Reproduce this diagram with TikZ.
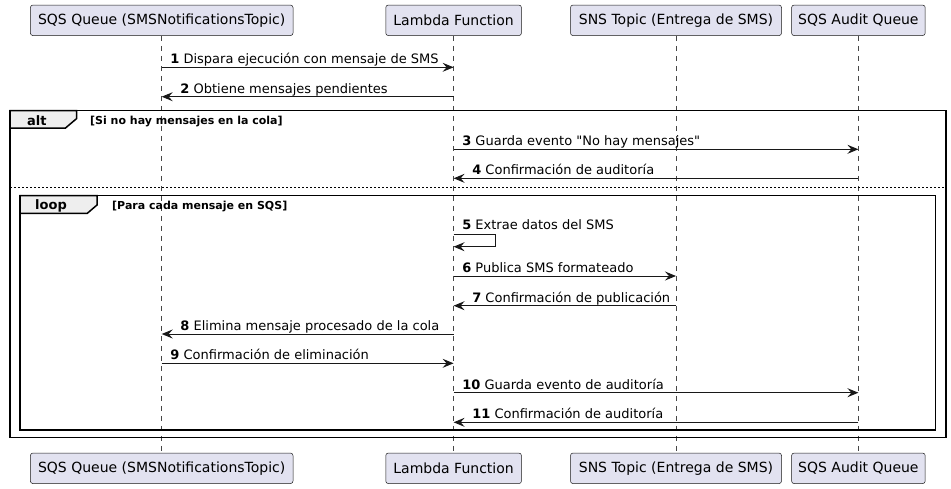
\documentclass[tikz,border=0pt]{standalone}
\usepackage{fontspec}
\setmainfont{DejaVu Sans}[Ligatures=TeXOff]
\usepackage{tikz}
\usetikzlibrary{arrows.meta}
\usetikzlibrary{positioning}
\definecolor{actor_fill}{RGB}{226,226,240}
\definecolor{actor_line}{RGB}{24,24,24}
\definecolor{tab_fill}{RGB}{238,238,238}
\tikzstyle{actor_box}=[draw=actor_line, line width=0.5pt, fill=actor_fill, rounded corners=2.5pt, minimum height=30.5pt, inner xsep=5pt, inner ysep=0pt, font=\fontsize{14}{16}\selectfont]
\tikzstyle{life_line}=[draw=actor_line!80, line width=0.5pt, dash pattern=on 5pt off 5pt]
\tikzstyle{msg}=[draw=actor_line, line width=1pt, -{Stealth[length=11pt,width=9pt,inset=4pt]}]
\tikzstyle{msg_text}=[anchor=base west, inner sep=0pt, font=\fontsize{13}{15}\selectfont]
\tikzstyle{frame_box}=[draw=black, line width=1.5pt]
\tikzstyle{frame_tab}=[draw=black, line width=1.5pt, fill=tab_fill]
\tikzstyle{frame_text}=[anchor=base west, inner sep=0pt, font=\bfseries\fontsize{13}{15}\selectfont]
\tikzstyle{guard_text}=[anchor=base west, inner sep=0pt, font=\bfseries\fontsize{11}{13}\selectfont]
\tikzstyle{else_line}=[draw=black, line width=0.8pt, dash pattern=on 2pt off 2pt]

\begin{document}
\begin{tikzpicture}[x=1pt, y=-1pt]
\useasboundingbox (0,0) rectangle (951,488);
\node[actor_box, minimum width=262.6pt] (sqs) at (161.7,20.3){SQS Queue (SMSNotificationsTopic)};
\node[actor_box, minimum width=135.7pt] (lambda) at (453.6,20.3){Lambda Function};
\node[actor_box, minimum width=211pt] (sns) at (676,20.3){SNS Topic (Entrega de SMS)};
\node[actor_box, minimum width=133.6pt] (audit) at (858.4,20.3){SQS Audit Queue};
\node[actor_box, minimum width=262.6pt] (sqs_b) at (161.7,468.3){SQS Queue (SMSNotificationsTopic)};
\node[actor_box, minimum width=135.7pt] (lambda_b) at (453.6,468.3){Lambda Function};
\node[actor_box, minimum width=211pt] (sns_b) at (676,468.3){SNS Topic (Entrega de SMS)};
\node[actor_box, minimum width=133.6pt] (audit_b) at (858.4,468.3){SQS Audit Queue};
\draw[life_line](sqs) -- (sqs_b);
\draw[life_line](lambda) -- (lambda_b);
\draw[life_line](sns) -- (sns_b);
\draw[life_line](audit) -- (audit_b);
% alt frame
\draw[frame_box] (10,110.5) rectangle (946,437.3);
\draw[frame_tab] (10,110.5) -- (76.7,110.5) -- (76.7,118.5) -- (65.5,128) -- (10,128) -- cycle;
\node[frame_text] (alt_lbl) at (27,125){alt};
\node[guard_text] (alt_guard) at (90,124.3){[Si no hay mensajes en la cola]};
\draw[else_line] (10,187.3) -- (946,187.3);
% loop frame
\draw[frame_box] (20,195.7) rectangle (935.5,430);
\draw[frame_tab] (20,195.7) -- (97,195.7) -- (97,205) -- (87.3,213.3) -- (20,213.3) -- cycle;
\node[frame_text] (loop_lbl) at (35,209.3){loop};
\node[guard_text] (loop_guard) at (112,209){[Para cada mensaje en SQS]};
% messages
\coordinate (c1a) at (161.7,67.3);
\coordinate (c1b) at (453.6,67.3);
\draw[msg](c1a) -- (c1b);
\node[msg_text] (t1) at (170.2,63.8){\textbf{1} Dispara ejecución con mensaje de SMS};
\coordinate (c2a) at (453.6,96.7);
\coordinate (c2b) at (161.7,96.7);
\draw[msg](c2a) -- (c2b);
\node[msg_text] (t2) at (180.2,93.2){\textbf{2} Obtiene mensajes pendientes};
\coordinate (c3a) at (453.6,149.3);
\coordinate (c3b) at (858.4,149.3);
\draw[msg](c3a) -- (c3b);
\node[msg_text] (t3) at (462.1,145.8){\textbf{3} Guarda evento "No hay mensajes"};
\coordinate (c4a) at (858.4,178.3);
\coordinate (c4b) at (453.6,178.3);
\draw[msg](c4a) -- (c4b);
\node[msg_text] (t4) at (472.1,174.8){\textbf{4} Confirmación de auditoría};
\coordinate (c5a) at (453.6,234.3);
\coordinate (c5r) at (495.7,234.3);
\coordinate (c5s) at (495.7,246.7);
\coordinate (c5b) at (453.6,246.7);
\draw[msg](c5a) -- (c5r) -- (c5s) -- (c5b);
\node[msg_text] (t5) at (462.1,229.3){\textbf{5} Extrae datos del SMS};
\coordinate (c6a) at (453.6,276);
\coordinate (c6b) at (676,276);
\draw[msg](c6a) -- (c6b);
\node[msg_text] (t6) at (462.1,272.5){\textbf{6} Publica SMS formateado};
\coordinate (c7a) at (676,305.7);
\coordinate (c7b) at (453.6,305.7);
\draw[msg](c7a) -- (c7b);
\node[msg_text] (t7) at (472.1,302.2){\textbf{7} Confirmación de publicación};
\coordinate (c8a) at (453.6,334);
\coordinate (c8b) at (161.7,334);
\draw[msg](c8a) -- (c8b);
\node[msg_text] (t8) at (180.2,330.5){\textbf{8} Elimina mensaje procesado de la cola};
\coordinate (c9a) at (161.7,363.3);
\coordinate (c9b) at (453.6,363.3);
\draw[msg](c9a) -- (c9b);
\node[msg_text] (t9) at (170.2,359.8){\textbf{9} Confirmación de eliminación};
\coordinate (c10a) at (453.6,392.7);
\coordinate (c10b) at (858.4,392.7);
\draw[msg](c10a) -- (c10b);
\node[msg_text] (t10) at (462.1,389.2){\textbf{10} Guarda evento de auditoría};
\coordinate (c11a) at (858.4,422.3);
\coordinate (c11b) at (453.6,422.3);
\draw[msg](c11a) -- (c11b);
\node[msg_text] (t11) at (472.1,418.8){\textbf{11} Confirmación de auditoría};
\end{tikzpicture}
\end{document}
